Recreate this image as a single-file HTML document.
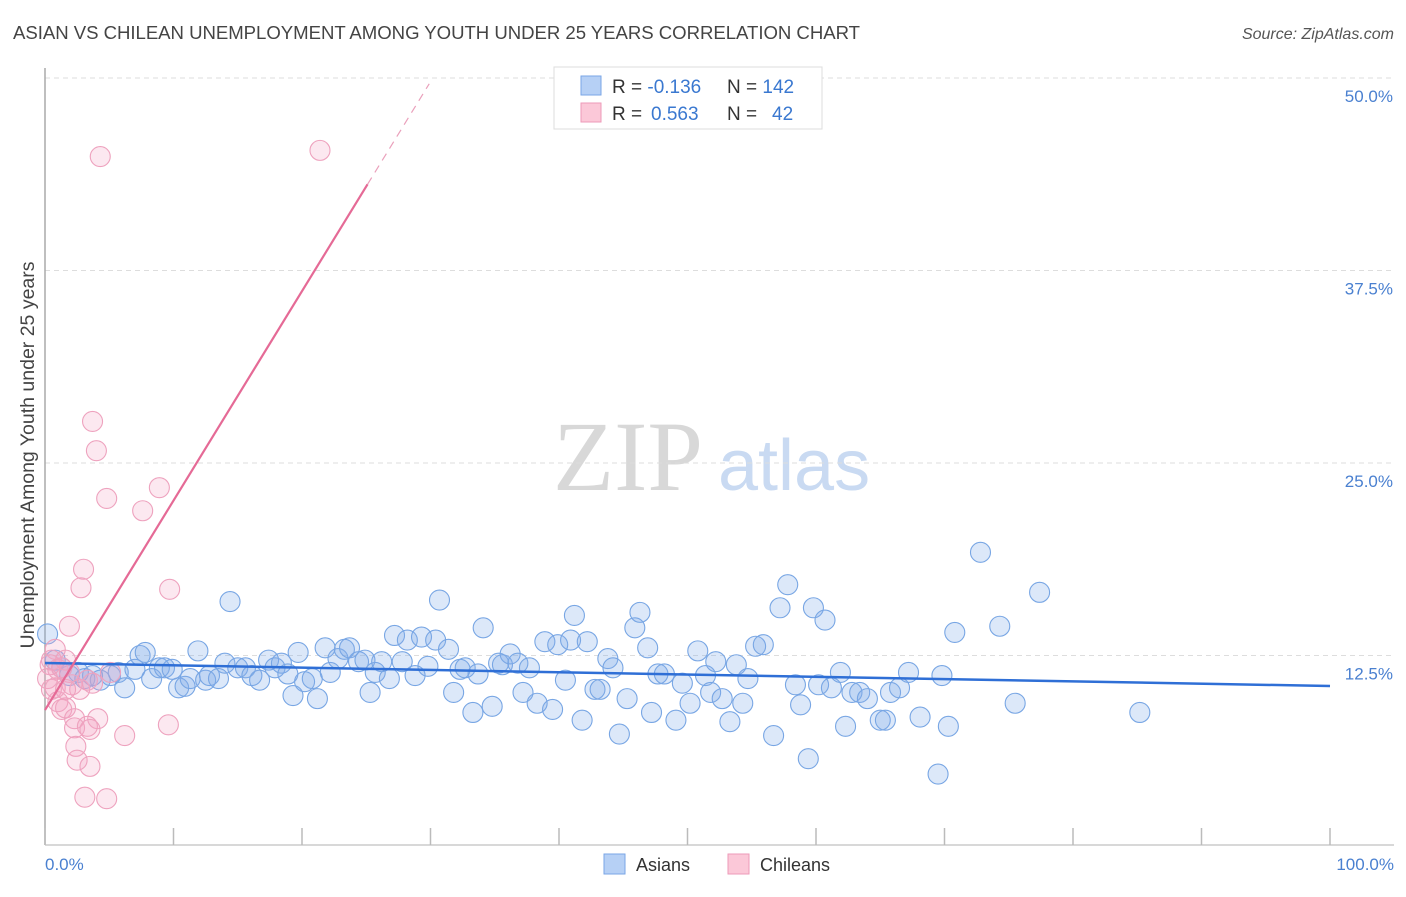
<!DOCTYPE html>
<html><head><meta charset="utf-8"><style>
body{margin:0;background:#fff;font-family:"Liberation Sans",sans-serif;}
svg text{font-family:"Liberation Sans",sans-serif;}
</style></head><body>
<svg id="chart" width="1406" height="892" xmlns="http://www.w3.org/2000/svg">
<text x="13" y="39" font-size="18.6" fill="#444" textLength="847">ASIAN VS CHILEAN UNEMPLOYMENT AMONG YOUTH UNDER 25 YEARS CORRELATION CHART</text>
<text x="1394" y="39" font-size="16" fill="#555" text-anchor="end" font-style="italic">Source: ZipAtlas.com</text>
<g>
<text x="553" y="490" font-size="100" fill="#d8d8d8" style="font-family:'Liberation Serif',serif">ZIP</text>
<text x="718" y="490" font-size="72" fill="#c9daf2">atlas</text>
</g>
<g id="grid"></g>
<line x1="45" y1="68" x2="45" y2="845" stroke="#aaa" stroke-width="1.5"/>
<line x1="45" y1="845" x2="1394" y2="845" stroke="#ccc" stroke-width="1.5"/>
<g id="ticks"></g>
<text transform="translate(34,455) rotate(-90)" font-size="19.5" fill="#444" text-anchor="middle">Unemployment Among Youth under 25 years</text>
<text x="45" y="870" font-size="17" fill="#4a80d0">0.0%</text>
<text x="1394" y="870" font-size="17" fill="#4a80d0" text-anchor="end">100.0%</text>
<g id="points"></g>
<g id="lines"></g>
<g>
<rect x="554" y="67" width="268" height="62" fill="#fff" stroke="#ddd"/>
<rect x="581" y="76" width="20" height="19" fill="#b6d0f5" stroke="#7aa6e6"/>
<rect x="581" y="103" width="20" height="19" fill="#fbc8d8" stroke="#ee9ab8"/>
<text x="612" y="93" font-size="19" fill="#333">R = <tspan fill="#3a78d0">-0.136</tspan></text>
<text x="727" y="93" font-size="19" fill="#333">N = <tspan fill="#3a78d0">142</tspan></text>
<text x="612" y="120" font-size="19" fill="#333">R = <tspan fill="#3a78d0" x="651">0.563</tspan></text>
<text x="727" y="120" font-size="19" fill="#333">N = <tspan fill="#3a78d0" x="772">42</tspan></text>
</g>
<g>
<rect x="604" y="854" width="21" height="20" fill="#b6d0f5" stroke="#7aa6e6"/>
<text x="636" y="871" font-size="18" fill="#333">Asians</text>
<rect x="728" y="854" width="21" height="20" fill="#fbc8d8" stroke="#ee9ab8"/>
<text x="760" y="871" font-size="18" fill="#333">Chileans</text>
</g>
</svg>
<script>
const yTicks=[12.5,25,37.5,50];
const yTickLabels=["12.5%","25.0%","37.5%","50.0%"];
const xTicks=[0,10,20,30,40,50,60,70,80,90,100];
const asianX=[0.2,0.8,1.3,1.9,2.6,3.1,3.7,4.3,5.1,5.7,6.2,7.0,7.4,7.8,8.3,8.9,9.3,9.9,10.4,10.9,11.3,11.9,12.5,12.8,13.5,14.0,14.4,15.0,15.6,16.1,16.7,17.4,17.9,18.4,18.9,19.3,19.7,20.2,20.8,21.2,21.8,22.2,22.8,23.3,23.7,24.4,24.9,25.3,25.7,26.2,26.8,27.2,27.8,28.2,28.8,29.3,29.8,30.4,30.7,31.4,31.8,32.3,32.7,33.3,33.7,34.1,34.8,35.3,35.6,36.2,36.8,37.2,37.7,38.3,38.9,39.5,39.9,40.5,40.9,41.2,41.8,42.2,42.8,43.2,43.8,44.2,44.7,45.3,45.9,46.3,46.9,47.2,47.7,48.2,49.1,49.6,50.2,50.8,51.4,51.8,52.2,52.7,53.3,53.8,54.3,54.7,55.3,55.9,56.7,57.2,57.8,58.4,58.8,59.4,59.8,60.2,60.7,61.2,61.9,62.3,62.8,63.4,64.0,65.0,65.4,65.8,66.5,67.2,68.1,69.5,69.8,70.3,70.8,72.8,74.3,75.5,77.4,85.2];
const asianY=[13.9,12.2,11.7,11.2,11.4,11.0,11.2,10.9,11.2,11.4,10.4,11.6,12.5,12.7,11.0,11.7,11.7,11.6,10.4,10.5,11.0,12.8,10.9,11.2,11.0,12.0,16.0,11.7,11.7,11.2,10.9,12.2,11.7,12.0,11.3,9.9,12.7,10.8,11.0,9.7,13.0,11.4,12.3,12.9,13.0,12.1,12.2,10.1,11.4,12.1,11.0,13.8,12.1,13.5,11.2,13.7,11.8,13.5,16.1,12.9,10.1,11.6,11.7,8.8,11.3,14.3,9.2,12.0,11.9,12.6,12.0,10.1,11.7,9.4,13.4,9.0,13.2,10.9,13.5,15.1,8.3,13.4,10.3,10.3,12.3,11.7,7.4,9.7,14.3,15.3,13.0,8.8,11.3,11.3,8.3,10.7,9.4,12.8,11.2,10.1,12.1,9.7,8.2,11.9,9.4,11.0,13.1,13.2,7.3,15.6,17.1,10.6,9.3,5.8,15.6,10.6,14.8,10.4,11.4,7.9,10.1,10.1,9.7,8.3,8.3,10.1,10.4,11.4,8.5,4.8,11.2,7.9,14.0,19.2,14.4,9.4,16.6,8.8];
const chileanX=[4.3,21.4,3.7,4.0,4.8,7.6,8.9,3.0,2.8,9.7,1.9,0.8,0.5,0.4,1.0,1.3,1.6,1.9,2.1,0.2,0.5,1.0,1.3,1.6,2.3,2.7,3.3,3.7,4.1,2.3,3.3,3.5,5.1,6.2,9.6,2.4,2.5,3.5,3.1,4.8,0.8,1.6];
const chileanY=[44.9,45.3,27.7,25.8,22.7,21.9,23.4,18.1,16.9,16.8,14.4,12.9,12.2,11.9,11.6,11.7,12.2,11.4,10.6,11.0,10.3,9.5,9.0,9.1,8.4,10.3,10.9,10.7,8.4,7.8,7.9,7.7,11.4,7.3,8.0,6.6,5.7,5.3,3.3,3.2,10.4,10.3];
const asianTrend=[12.01,10.52];   // y at x=0 and x=100
const chileanTrend=[8.96,1.36];   // intercept, slope per x%

const X=v=>45+v*12.85, Y=v=>848-v*15.4;
const NS="http://www.w3.org/2000/svg";
function mk(tag,attrs,parent){const e=document.createElementNS(NS,tag);for(const k in attrs)e.setAttribute(k,attrs[k]);parent.appendChild(e);return e;}
const grid=document.getElementById('grid'),ticks=document.getElementById('ticks'),pts=document.getElementById('points'),lines=document.getElementById('lines');
yTicks.forEach((t,i)=>{
  const l=mk('line',{x1:45,x2:1394,y1:Y(t),y2:Y(t),stroke:'#ddd','stroke-dasharray':'5,4'},grid);
  
  
  const tx=mk('text',{x:1393,y:Y(t)+24,'font-size':17,fill:'#4a80d0','text-anchor':'end'},ticks);
  tx.textContent=yTickLabels[i];
  
  
});
xTicks.forEach(t=>{
  const l=mk('line',{x1:X(t),x2:X(t),y1:828,y2:845,stroke:'#bbb','stroke-width':1.5},ticks);
  
  
});
asianX.forEach((x,i)=>{
  const c=mk('circle',{cx:X(x),cy:Y(asianY[i]),r:10,fill:'rgba(130,172,232,0.28)',stroke:'#78a6e4','stroke-width':1.1},pts);
  
  
});
chileanX.forEach((x,i)=>{
  const c=mk('circle',{cx:X(x),cy:Y(chileanY[i]),r:10,fill:'rgba(245,165,195,0.25)',stroke:'#eea2be','stroke-width':1.1},pts);
  
  
});
const a=mk('line',{x1:X(0),y1:Y(asianTrend[0]),x2:X(100),y2:Y(asianTrend[1]),stroke:'#2f6fd6','stroke-width':2.5},lines);


const cy=x=>chileanTrend[0]+chileanTrend[1]*x;
const p1=mk('line',{x1:X(0),y1:Y(cy(0)),x2:X(25.1),y2:Y(cy(25.1)),stroke:'#e56a96','stroke-width':2.2},lines);


const p2=mk('line',{x1:X(25.1),y1:Y(cy(25.1)),x2:X(29.9),y2:Y(cy(29.9)),stroke:'#eaa0bb','stroke-width':1.2,'stroke-dasharray':'8,6'},lines);


</script>
</body></html>
